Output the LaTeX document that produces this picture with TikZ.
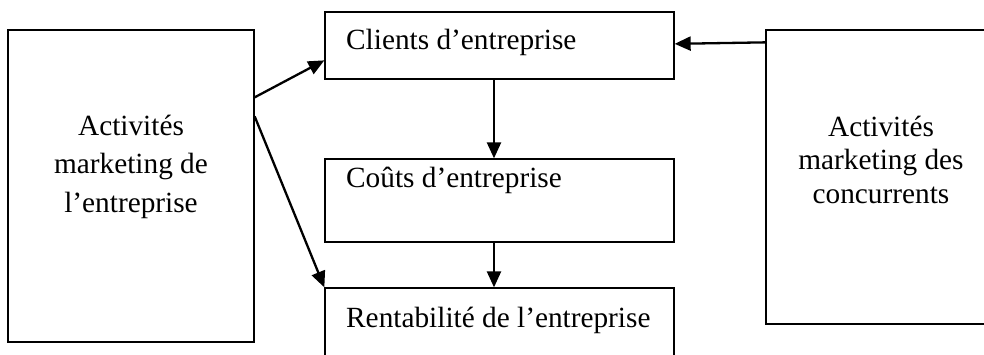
\documentclass[tikz,border=0pt]{standalone}
\usepackage{fontspec}
\setmainfont{Liberation Serif}
\usetikzlibrary{arrows.meta}

\tikzset{
  box/.style={draw, line width=1.3pt, inner sep=0pt, minimum width=#1},
  lbl/.style={font=\fontsize{29.3pt}{38.5pt}\selectfont, inner sep=0pt},
  link/.style={line width=2.3pt, -{Triangle[length=16pt,width=14pt]}},
}

\begin{document}
\begin{tikzpicture}[x=1pt,y=-1pt]
\useasboundingbox (0,0) rectangle (984,354);
\clip (0,0) rectangle (984,354);

% boxes
\node[box=246pt, minimum height=312pt] (own)    at (131,186)   {};
\node[box=349pt, minimum height=67pt]  (client) at (499.5,45.5) {};
\node[box=349pt, minimum height=83pt]  (cost)   at (499.5,200.5) {};
\node[box=349pt, minimum height=92pt]  (profit) at (499.5,334) {};
\node[box=230pt, minimum height=294pt] (rival)  at (881,177)   {};

% texts of the central column
\node[lbl, anchor=base west] (tclient) at (346,49)  {Clients d’entreprise};
\node[lbl, anchor=base west] (tcost)   at (346,187) {Coûts d’entreprise};
\node[lbl, anchor=base west] (tprofit) at (346,327) {Rentabilité de l’entreprise};

% texts of the side boxes
\node[lbl, anchor=base] (town) at (131,135)
  {\parbox[t]{230pt}{\centering\fontsize{29.3pt}{38.5pt}\selectfont
   Activités\\marketing de\\l’entreprise}};
\node[lbl, anchor=base] (trival) at (881,136)
  {\parbox[t]{220pt}{\centering\fontsize{29.3pt}{33.5pt}\selectfont
   Activités\\marketing des\\concurrents}};

% connectors
\draw[link] ([yshift=-68pt]own.north east) -- ([yshift=-49pt]client.north west);
\draw[link] ([yshift=-87pt]own.north east) -- (profit.north west);
\draw[link] ([xshift=-5.5pt]client.south) -- ([xshift=-5.5pt]cost.north);
\draw[link] ([xshift=-5.5pt]cost.south) -- ([xshift=-5.5pt]profit.north);
\draw[link] ([yshift=-13pt]rival.north west) -- ([yshift=-32.5pt]client.north east);
\end{tikzpicture}
\end{document}
